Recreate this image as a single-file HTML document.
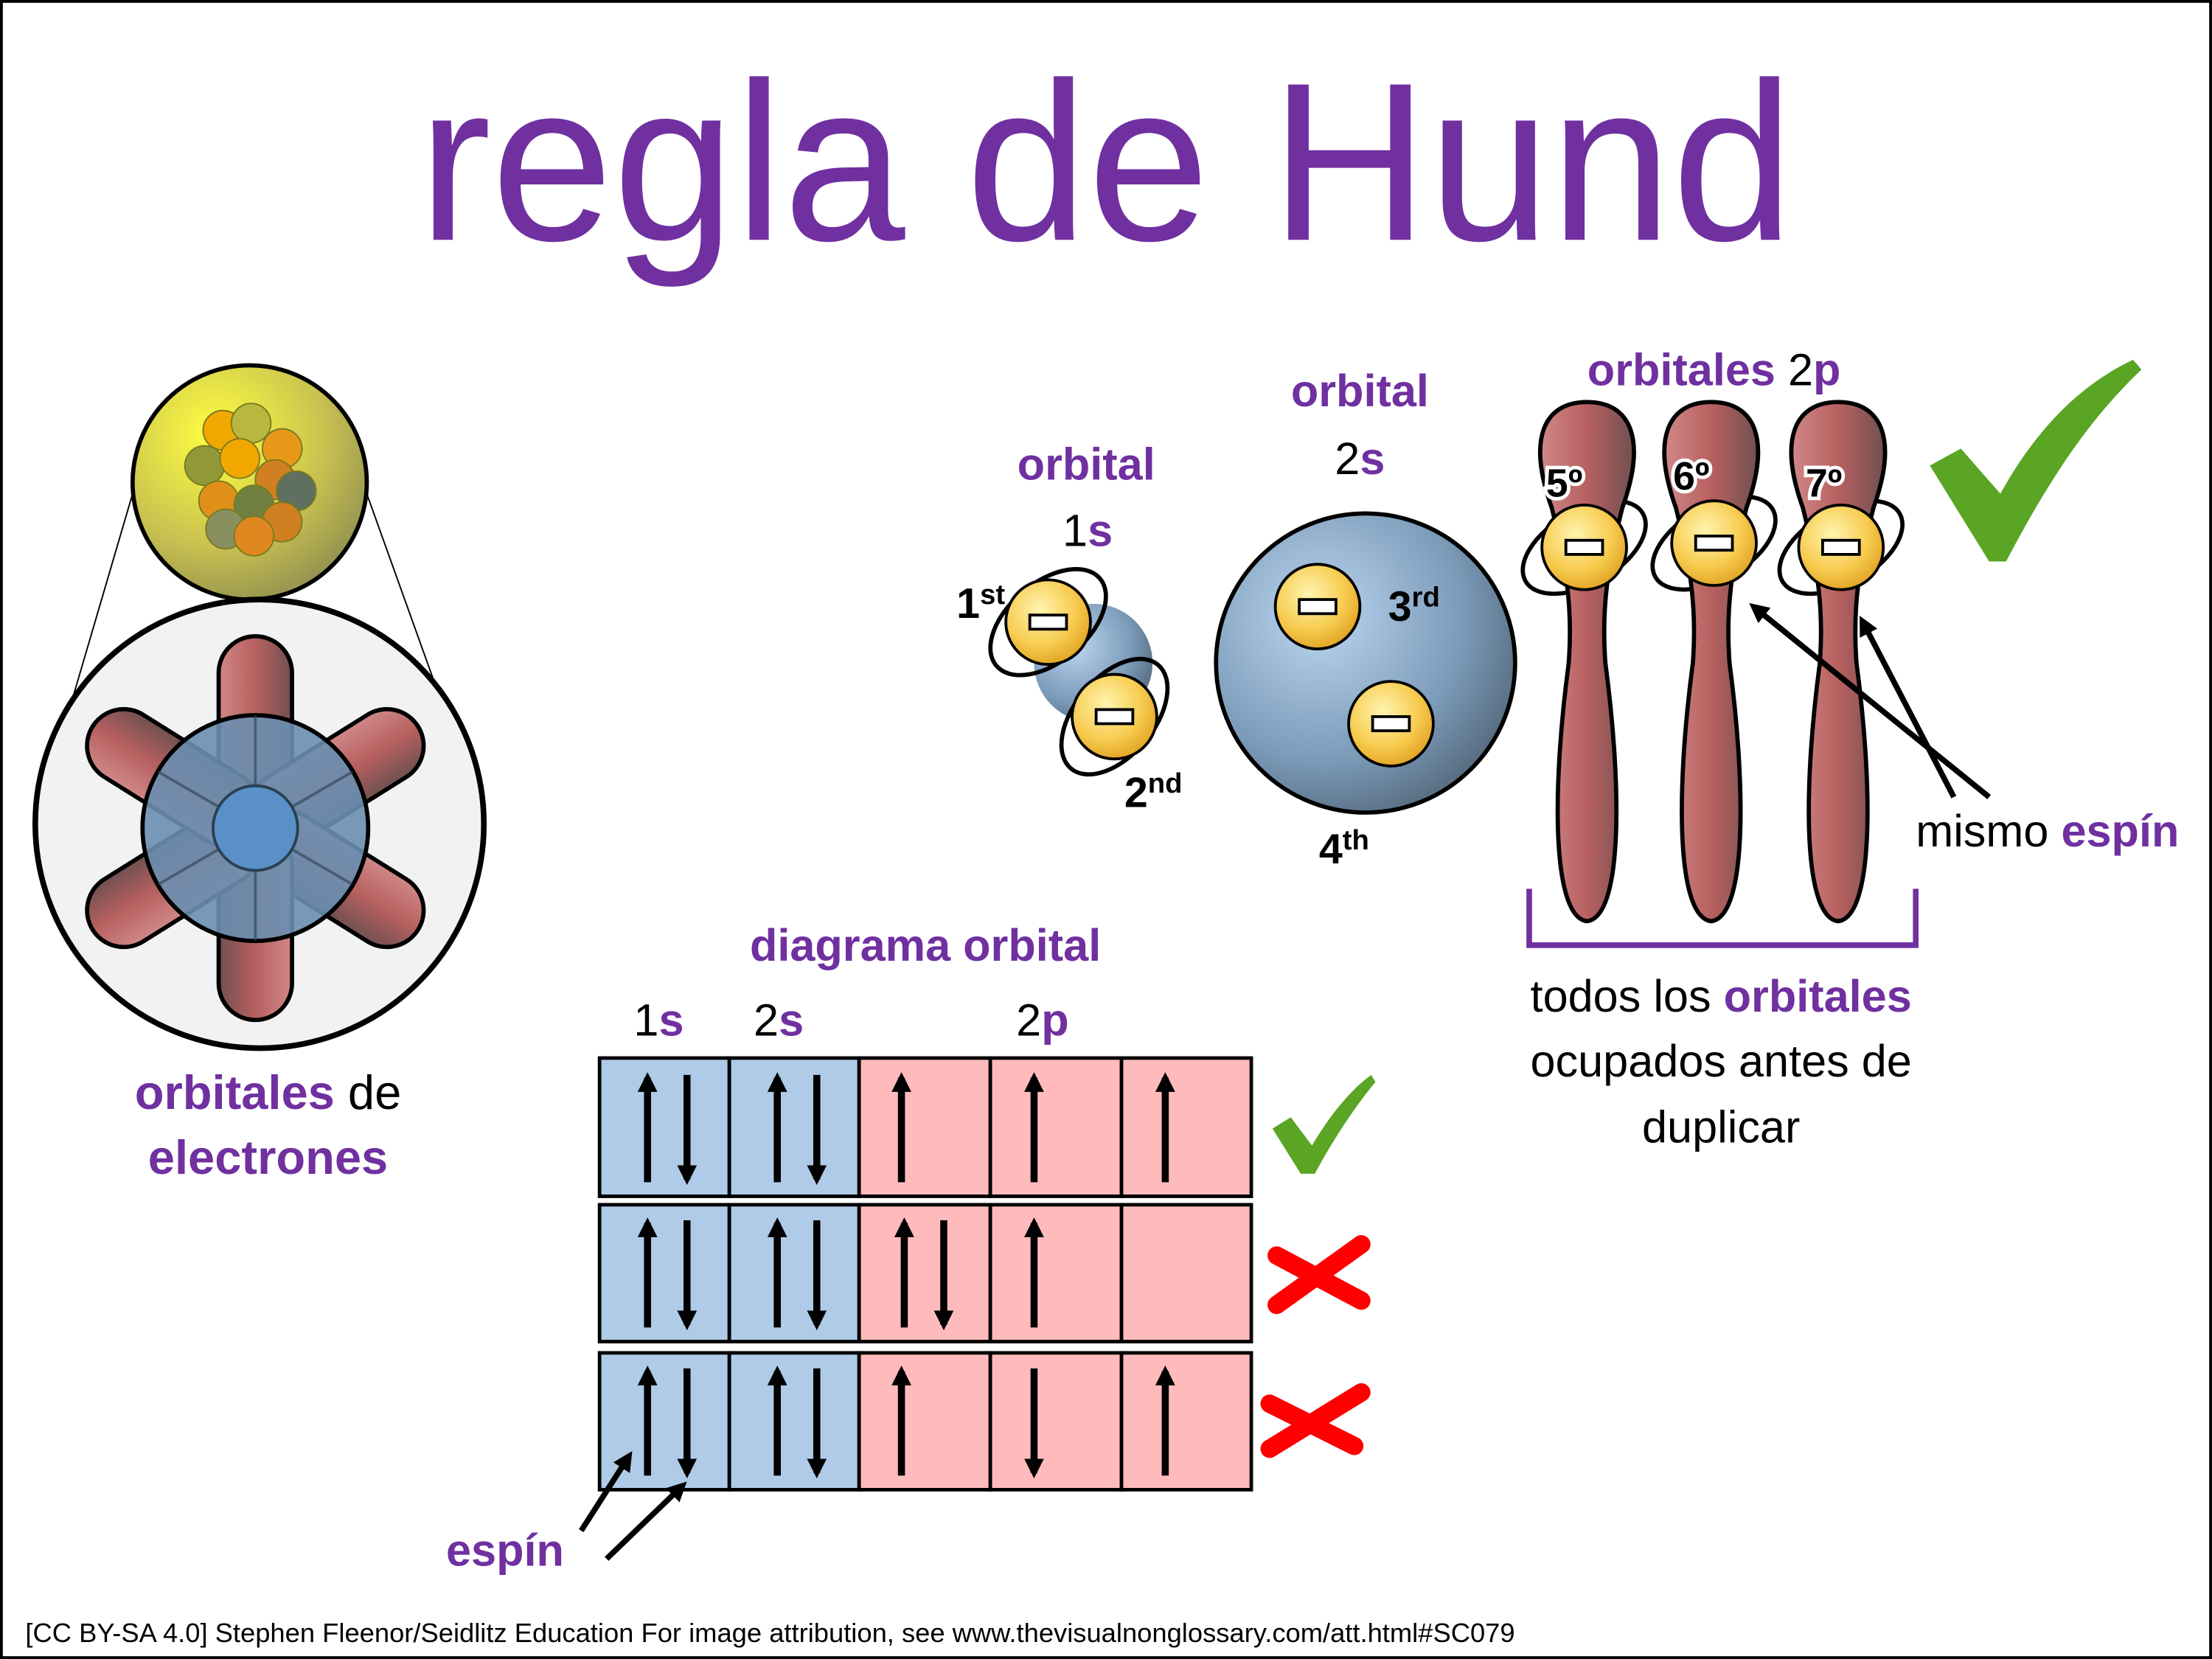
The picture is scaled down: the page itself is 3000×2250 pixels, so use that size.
<!DOCTYPE html>
<html><head><meta charset="utf-8"><style>
html,body{margin:0;padding:0;background:#fff}
svg{display:block}
text{font-family:"Liberation Sans",sans-serif}
</style></head><body>
<svg width="3000" height="2250" viewBox="0 0 1568 1176" xmlns="http://www.w3.org/2000/svg">
<defs>
<radialGradient id="yel" cx="0.35" cy="0.3" r="0.8"><stop offset="0" stop-color="#ffff40"/><stop offset="0.6" stop-color="#c8c050"/><stop offset="1" stop-color="#8a8a50"/></radialGradient>
<radialGradient id="blu" cx="0.35" cy="0.35" r="0.8"><stop offset="0" stop-color="#bcd6f0"/><stop offset="0.6" stop-color="#7a9ab8"/><stop offset="1" stop-color="#4a5a6a"/></radialGradient>
<radialGradient id="el" cx="0.4" cy="0.35" r="0.7"><stop offset="0" stop-color="#fff4b0"/><stop offset="0.6" stop-color="#f7cc50"/><stop offset="1" stop-color="#e0a020"/></radialGradient>
<linearGradient id="red" x1="0" x2="1"><stop offset="0" stop-color="#d08888"/><stop offset="0.5" stop-color="#b86060"/><stop offset="1" stop-color="#705050"/></linearGradient>
<marker id="ah2" markerWidth="14" markerHeight="14" refX="10" refY="7" orient="auto" markerUnits="userSpaceOnUse"><path d="M0,0 L14,7 L0,14 Z" fill="#000"/></marker>
<g id="elec"><circle r="30" fill="url(#el)" stroke="#000" stroke-width="2"/><rect x="-13" y="-5" width="26" height="10" fill="#fff" stroke="#000" stroke-width="2"/></g>
</defs>
<rect x="1" y="1" width="1566" height="1174" fill="#fff" stroke="#000" stroke-width="2"/>
<text x="784" y="170" font-size="160" fill="#7030a0" text-anchor="middle" textLength="975" lengthAdjust="spacingAndGlyphs">regla de Hund</text>

<line x1="94" y1="350" x2="50" y2="500" stroke="#000" stroke-width="1"/>
<line x1="260" y1="350" x2="312" y2="495" stroke="#000" stroke-width="1"/>
<circle cx="177" cy="342" r="83" fill="url(#yel)" stroke="#000" stroke-width="3"/>
<g stroke="#7a7a20" stroke-width="1">
<circle cx="158" cy="305" r="14" fill="#f0a800"/><circle cx="178" cy="300" r="14" fill="#b8b840"/><circle cx="200" cy="318" r="14" fill="#e89818"/>
<circle cx="145" cy="330" r="14" fill="#909838"/><circle cx="170" cy="325" r="14" fill="#f0a800"/><circle cx="195" cy="340" r="14" fill="#d08020"/>
<circle cx="210" cy="348" r="14" fill="#607060"/><circle cx="155" cy="355" r="14" fill="#e09018"/><circle cx="180" cy="358" r="14" fill="#708040"/>
<circle cx="200" cy="370" r="14" fill="#d08020"/><circle cx="160" cy="375" r="14" fill="#889060"/><circle cx="180" cy="380" r="14" fill="#e08820"/>
</g>
<circle cx="184" cy="584" r="159" fill="#f2f2f2" stroke="#000" stroke-width="4"/>
<g stroke="#000" stroke-width="3" fill="url(#red)">
<g transform="translate(181,587)">
<rect x="-26" y="-136" width="52" height="136" rx="26" transform="rotate(0)"/>
<rect x="-26" y="-136" width="52" height="136" rx="26" transform="rotate(58)"/>
<rect x="-26" y="-136" width="52" height="136" rx="26" transform="rotate(122)"/>
<rect x="-26" y="-136" width="52" height="136" rx="26" transform="rotate(180)"/>
<rect x="-26" y="-136" width="52" height="136" rx="26" transform="rotate(238)"/>
<rect x="-26" y="-136" width="52" height="136" rx="26" transform="rotate(302)"/>
</g></g>
<circle cx="181" cy="587" r="80" fill="#6a8eb0" fill-opacity="0.9" stroke="#000" stroke-width="3"/>
<g stroke="#2a4050" stroke-width="2" opacity="0.6"><line x1="181" y1="587" x2="181" y2="507"/><line x1="181" y1="587" x2="250" y2="547"/><line x1="181" y1="587" x2="250" y2="627"/><line x1="181" y1="587" x2="181" y2="667"/><line x1="181" y1="587" x2="112" y2="627"/><line x1="181" y1="587" x2="112" y2="547"/></g>
<circle cx="181" cy="587" r="30" fill="#5a90c8" stroke="#2a4050" stroke-width="2"/>
<text x="190" y="786" font-size="34" text-anchor="middle"><tspan fill="#7030a0" font-weight="bold">orbitales</tspan> de</text>
<text x="190" y="832" font-size="34" text-anchor="middle" fill="#7030a0" font-weight="bold">electrones</text>

<text x="770" y="340" font-size="32" text-anchor="middle" fill="#7030a0" font-weight="bold">orbital</text>
<text x="771" y="387" font-size="32" text-anchor="middle">1<tspan fill="#7030a0" font-weight="bold">s</tspan></text>
<circle cx="775" cy="470" r="42" fill="url(#blu)"/>
<g fill="none" stroke="#000" stroke-width="3">
<ellipse cx="743" cy="441" rx="48" ry="28" transform="rotate(-40 743 441)"/>
<ellipse cx="790" cy="508" rx="48" ry="28" transform="rotate(-50 790 508)"/>
<ellipse cx="934" cy="430" rx="48" ry="28" transform="rotate(-35 934 430)"/>
<ellipse cx="986" cy="513" rx="48" ry="28" transform="rotate(-50 986 513)"/>
<ellipse cx="1123" cy="388" rx="48" ry="26" transform="rotate(-30 1123 388)"/>
<ellipse cx="1215" cy="385" rx="48" ry="26" transform="rotate(-30 1215 385)"/>
<ellipse cx="1305" cy="388" rx="48" ry="26" transform="rotate(-30 1305 388)"/>
</g>
<use href="#elec" x="743" y="441"/><use href="#elec" x="790" y="508"/>
<text x="678" y="438" font-size="30" font-weight="bold">1<tspan font-size="20" dy="-10">st</tspan></text>
<text x="797" y="572" font-size="30" font-weight="bold">2<tspan font-size="20" dy="-10">nd</tspan></text>

<text x="964" y="288" font-size="32" text-anchor="middle" fill="#7030a0" font-weight="bold">orbital</text>
<text x="964" y="336" font-size="32" text-anchor="middle">2<tspan fill="#7030a0" font-weight="bold">s</tspan></text>
<circle cx="968" cy="470" r="106" fill="url(#blu)" stroke="#000" stroke-width="3"/>
<use href="#elec" x="934" y="430"/><use href="#elec" x="986" y="513"/>
<text x="984" y="440" font-size="30" font-weight="bold">3<tspan font-size="20" dy="-10">rd</tspan></text>
<text x="935" y="612" font-size="30" font-weight="bold">4<tspan font-size="20" dy="-10">th</tspan></text>

<text x="1215" y="273" font-size="32" text-anchor="middle" fill="#7030a0" font-weight="bold">orbitales <tspan fill="#000" font-weight="normal">2</tspan>p</text>
<g stroke="#000" stroke-width="3" fill="url(#red)">
<path d="M1125,285 C1095,285 1082,310 1100,360 C1110,400 1115,430 1112,470 C1100,560 1100,650 1125,653 C1150,650 1150,560 1138,470 C1135,430 1140,400 1150,360 C1168,310 1155,285 1125,285 Z"/>
<path d="M1213,285 C1183,285 1170,310 1188,360 C1198,400 1203,430 1200,470 C1188,560 1188,650 1213,653 C1238,650 1238,560 1226,470 C1223,430 1228,400 1238,360 C1256,310 1243,285 1213,285 Z"/>
<path d="M1303,285 C1273,285 1260,310 1278,360 C1288,400 1293,430 1290,470 C1278,560 1278,650 1303,653 C1328,650 1328,560 1316,470 C1313,430 1318,400 1328,360 C1346,310 1333,285 1303,285 Z"/>
</g>
<use href="#elec" x="1123" y="388"/><use href="#elec" x="1215" y="385"/><use href="#elec" x="1305" y="388"/>
<g font-size="28" font-weight="bold" fill="#000" stroke="#fff" stroke-width="5" paint-order="stroke"><text x="1096" y="352">5º</text><text x="1186" y="347">6º</text><text x="1280" y="352">7º</text></g>
<path d="M1368,330 L1390,318 L1418,350 C1440,310 1470,275 1512,255 L1518,262 C1478,300 1450,345 1422,398 L1410,398 Z" fill="#5aa524"/>
<line x1="1410" y1="565" x2="1243" y2="430" stroke="#000" stroke-width="4" marker-end="url(#ah2)"/>
<line x1="1385" y1="565" x2="1320" y2="440" stroke="#000" stroke-width="4" marker-end="url(#ah2)"/>
<text x="1358" y="600" font-size="32">mismo <tspan fill="#7030a0" font-weight="bold">espín</tspan></text>
<path d="M1084,630 L1084,670 L1358,670 L1358,630" fill="none" stroke="#7030a0" stroke-width="4"/>
<text x="1220" y="717" font-size="32" text-anchor="middle">todos los <tspan fill="#7030a0" font-weight="bold">orbitales</tspan></text>
<text x="1220" y="763" font-size="32" text-anchor="middle">ocupados antes de</text>
<text x="1220" y="810" font-size="32" text-anchor="middle">duplicar</text>

<text x="656" y="681" font-size="32" text-anchor="middle" fill="#7030a0" font-weight="bold">diagrama orbital</text>
<text x="467" y="734" font-size="32" text-anchor="middle">1<tspan fill="#7030a0" font-weight="bold">s</tspan></text>
<text x="552" y="734" font-size="32" text-anchor="middle">2<tspan fill="#7030a0" font-weight="bold">s</tspan></text>
<text x="739" y="734" font-size="32" text-anchor="middle">2<tspan fill="#7030a0" font-weight="bold">p</tspan></text>
<g stroke="#000" stroke-width="2.5">
<g fill="#afcbe8"><rect x="425" y="750" width="92" height="98"/><rect x="517" y="750" width="92" height="98"/><rect x="425" y="854" width="92" height="97"/><rect x="517" y="854" width="92" height="97"/><rect x="425" y="959" width="92" height="97"/><rect x="517" y="959" width="92" height="97"/></g>
<g fill="#ffbbbb"><rect x="609" y="750" width="93" height="98"/><rect x="702" y="750" width="93" height="98"/><rect x="795" y="750" width="92" height="98"/><rect x="609" y="854" width="93" height="97"/><rect x="702" y="854" width="93" height="97"/><rect x="795" y="854" width="92" height="97"/><rect x="609" y="959" width="93" height="97"/><rect x="702" y="959" width="93" height="97"/><rect x="795" y="959" width="92" height="97"/></g>
</g>
<g stroke="#000" stroke-width="5" marker-end="url(#ah2)">
<line x1="459" y1="838" x2="459" y2="764"/><line x1="487" y1="762" x2="487" y2="836"/>
<line x1="551" y1="838" x2="551" y2="764"/><line x1="579" y1="762" x2="579" y2="836"/>
<line x1="639" y1="838" x2="639" y2="764"/><line x1="733" y1="838" x2="733" y2="764"/><line x1="826" y1="838" x2="826" y2="764"/>
<line x1="459" y1="941" x2="459" y2="867"/><line x1="487" y1="865" x2="487" y2="939"/>
<line x1="551" y1="941" x2="551" y2="867"/><line x1="579" y1="865" x2="579" y2="939"/>
<line x1="641" y1="941" x2="641" y2="867"/><line x1="669" y1="865" x2="669" y2="939"/>
<line x1="733" y1="941" x2="733" y2="867"/>
<line x1="459" y1="1046" x2="459" y2="972"/><line x1="487" y1="970" x2="487" y2="1044"/>
<line x1="551" y1="1046" x2="551" y2="972"/><line x1="579" y1="970" x2="579" y2="1044"/>
<line x1="639" y1="1046" x2="639" y2="972"/><line x1="733" y1="970" x2="733" y2="1044"/><line x1="826" y1="1046" x2="826" y2="972"/>
</g>
<path d="M902,800 L915,792 L930,812 C943,790 958,772 972,762 L975,767 C960,785 945,808 932,832 L922,832 Z" fill="#5aa524"/>
<g stroke="#f00" stroke-width="13" stroke-linecap="round"><line x1="905" y1="890" x2="965" y2="922"/><line x1="965" y1="882" x2="905" y2="925"/><line x1="900" y1="995" x2="960" y2="1025"/><line x1="965" y1="987" x2="900" y2="1027"/></g>
<line x1="412" y1="1085" x2="446" y2="1032" stroke="#000" stroke-width="4" marker-end="url(#ah2)"/>
<line x1="430" y1="1105" x2="484" y2="1053" stroke="#000" stroke-width="4" marker-end="url(#ah2)"/>
<text x="358" y="1110" font-size="32" text-anchor="middle" fill="#7030a0" font-weight="bold">espín</text>
<text x="18" y="1164" font-size="19">[CC BY-SA 4.0] Stephen Fleenor/Seidlitz Education For image attribution, see www.thevisualnonglossary.com/att.html#SC079</text>
</svg>
</body></html>
